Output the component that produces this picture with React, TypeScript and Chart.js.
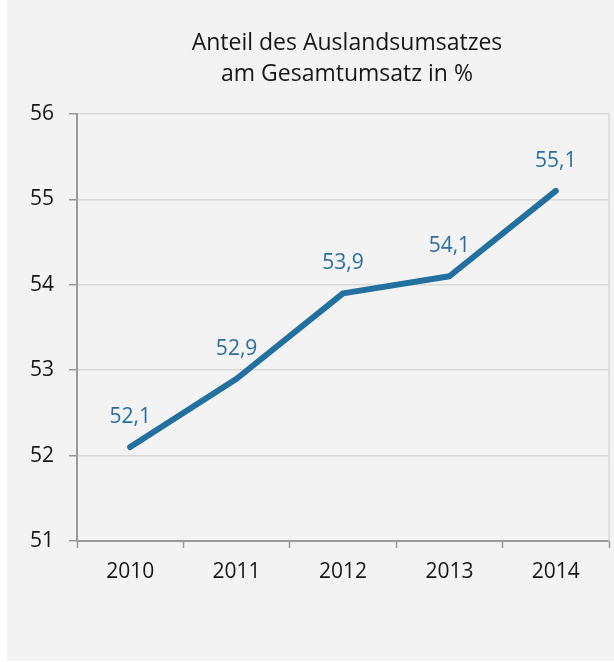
import React, { useEffect, useRef } from "react";
import { Chart, registerables } from "chart.js";

Chart.register(...registerables);

const years: string[] = ["2010", "2011", "2012", "2013", "2014"];
const shares: number[] = [52.1, 52.9, 53.9, 54.1, 55.1];
const titleLines: string[] = ["Anteil des Auslandsumsatzes", "am Gesamtumsatz in %"];
const yMin = 51;
const yMax = 56;

const FONT = "'Open Sans', 'Noto Sans', sans-serif";
const LINE_BLUE = "#21709f";
const LABEL_BLUE = "#2a6f9f";
const AXIS_GRAY = "#9a9a9a";
const GRID_GRAY = "#d8d9d8";
const TEXT = "#161616";

const fmt = (v: number) => v.toFixed(1).replace(".", ",");

const decorPlugin = {
  id: "decor",
  beforeDatasetsDraw(chart: any) {
    const { ctx, chartArea } = chart;
    ctx.save();
    ctx.strokeStyle = GRID_GRAY;
    ctx.lineWidth = 1.5;
    ctx.beginPath();
    ctx.moveTo(chartArea.right, chartArea.top);
    ctx.lineTo(chartArea.right, chartArea.bottom);
    ctx.stroke();
    ctx.restore();
  },
  afterDatasetsDraw(chart: any) {
    const { ctx, chartArea } = chart;
    ctx.save();
    // title
    ctx.fillStyle = TEXT;
    ctx.font = `23px ${FONT}`;
    ctx.textAlign = "center";
    ctx.textBaseline = "alphabetic";
    const cx = (chartArea.left + chartArea.right) / 2 + 4;
    ctx.fillText(titleLines[0], cx, 50);
    ctx.fillText(titleLines[1], cx, 81);
    // data labels
    const meta = chart.getDatasetMeta(0);
    ctx.fillStyle = LABEL_BLUE;
    ctx.font = `21px ${FONT}`;
    meta.data.forEach((pt: any, i: number) => {
      ctx.fillText(fmt(shares[i]), pt.x, pt.y - 24);
    });
    ctx.restore();
  },
};

export default function App() {
  const canvasRef = useRef<HTMLCanvasElement | null>(null);

  useEffect(() => {
    document.body.style.margin = "0";
    const canvas = canvasRef.current;
    if (!canvas) return;
    const chart = new Chart(canvas, {
      type: "line",
      data: {
        labels: years,
        datasets: [
          {
            data: shares,
            borderColor: LINE_BLUE,
            borderWidth: 6,
            borderCapStyle: "round",
            borderJoinStyle: "round",
            pointRadius: 0,
            pointHoverRadius: 0,
            tension: 0,
            fill: false,
          },
        ],
      },
      options: {
        animation: false,
        responsive: false,
        maintainAspectRatio: false,
        layout: { padding: { top: 114, right: 5, left: 0, bottom: 0 } },
        plugins: {
          legend: { display: false },
          title: { display: false },
          tooltip: { enabled: false },
        },
        scales: {
          x: {
            type: "category",
            offset: true,
            grid: {
              offset: true,
              drawOnChartArea: false,
              drawTicks: true,
              tickLength: 7,
              tickColor: AXIS_GRAY,
              tickWidth: 1.5,
            },
            border: { display: true, color: AXIS_GRAY, width: 2 },
            ticks: {
              color: TEXT,
              font: { family: FONT, size: 21 },
              padding: 11,
              maxRotation: 0,
            },
            afterFit: (s: any) => {
              s.height = 120;
            },
          },
          y: {
            min: yMin,
            max: yMax,
            grid: {
              color: GRID_GRAY,
              lineWidth: 1.5,
              drawTicks: true,
              tickLength: 8,
              tickColor: AXIS_GRAY,
              tickWidth: 1.5,
            },
            border: { display: true, color: AXIS_GRAY, width: 2 },
            ticks: {
              stepSize: 1,
              color: TEXT,
              font: { family: FONT, size: 21 },
              padding: 15,
            },
            afterFit: (s: any) => {
              s.width = 70;
            },
          },
        },
      },
      plugins: [decorPlugin],
    });
    return () => chart.destroy();
  }, []);

  return (
    <div style={{ position: "absolute", left: 0, top: 0, width: 614, height: 662, background: "#ffffff" }}>
      <div style={{ position: "absolute", left: 7, top: 0, width: 607, height: 661, background: "#f2f3f2" }}>
        <canvas ref={canvasRef} width={607} height={661} style={{ display: "block" }} />
      </div>
    </div>
  );
}
